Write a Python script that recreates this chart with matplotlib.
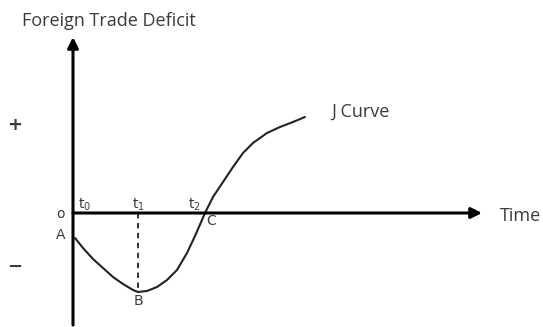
import matplotlib
matplotlib.use("Agg")
import matplotlib.pyplot as plt

# J curve points (origin at the axes crossing, y up)
curve_x = [2, 10, 20, 30, 40, 50, 60, 65, 74, 84, 94, 104, 114, 122,
           132, 140, 150, 160, 170, 180, 194, 207, 220, 232]
curve_y = [-25, -35, -46, -55, -64, -71, -77, -79, -78, -74, -67, -57, -40, -23,
           0, 16, 31, 46, 60, 70, 80, 86, 91, 96]

t_labels = ["t$_0$", "t$_1$", "t$_2$"]
t_pos = [12, 65, 121]
t1_min = -79
y_axis_range = (-112, 176)
x_axis_end = 409

fig = plt.figure(figsize=(5.43, 3.27), dpi=100)
ax = fig.add_axes([0, 0, 1, 1])
ax.set_xlim(-73, 470)
ax.set_ylim(-114, 213)
ax.axis("off")

dark = "#222222"
txt = "#3a3a3a"

# axes with arrow heads
arrow = dict(arrowstyle="-|>", lw=2.2, color="black", mutation_scale=16, shrinkA=0, shrinkB=0)
ax.annotate("", xy=(0, y_axis_range[1]), xytext=(0, y_axis_range[0]), arrowprops=arrow)
ax.annotate("", xy=(x_axis_end, 0), xytext=(0, 0), arrowprops=arrow)

# curve and dashed drop line at t1
ax.plot(curve_x, curve_y, color=dark, lw=1.5, solid_capstyle="round", solid_joinstyle="round")
ax.plot([t_pos[1], t_pos[1]], [0, t1_min], color=dark, lw=1.3, ls=(0, (3, 2.5)))

sans = ["Open Sans", "DejaVu Sans"]
ax.text(36, 192, "Foreign Trade Deficit", fontsize=13, family=sans, color=txt,
        ha="center", va="center")
ax.text(427, -3, "Time", fontsize=13, family=sans, color=txt, ha="left", va="center")
ax.text(258, 101, "J Curve", fontsize=13, family=sans, color=txt, ha="left", va="center")
ax.text(-58, 88, "+", fontsize=13, fontweight="bold", family="DejaVu Sans", color=txt,
        ha="center", va="center")
ax.text(-58, -54, "\u2212", fontsize=13, fontweight="bold", family="DejaVu Sans", color=txt,
        ha="center", va="center")

small = dict(fontsize=10, family="DejaVu Sans", color=txt, ha="center", va="center")
ax.text(-13, -1, "o", **small)
ax.text(-12, -22, "A", **small)
ax.text(65, -88, "B", **small)
ax.text(138, -8, "C", **small)
for lab, xp in zip(t_labels, t_pos):
    ax.text(xp, 8, lab, **small)

fig.savefig("out.png", dpi=100)
